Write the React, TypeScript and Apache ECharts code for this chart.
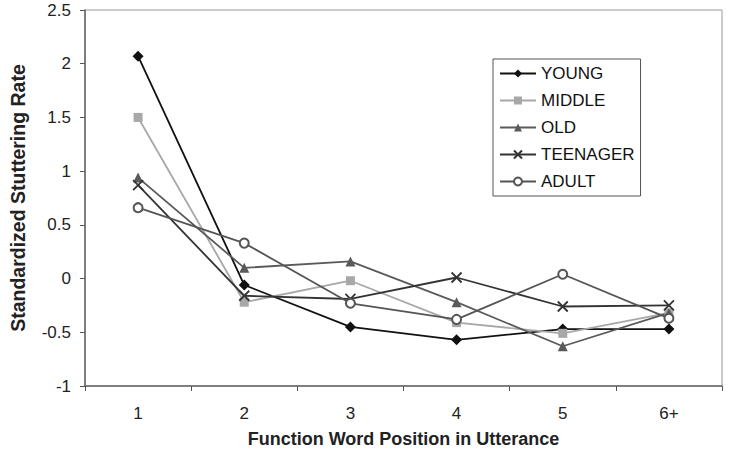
import React, { useEffect, useRef } from "react";
import * as echarts from "echarts";

const categories = ["1", "2", "3", "4", "5", "6+"];
const young = [2.07, -0.06, -0.45, -0.57, -0.47, -0.47];
const middle = [1.5, -0.22, -0.02, -0.41, -0.51, -0.32];
const old = [0.94, 0.1, 0.16, -0.22, -0.63, -0.32];
const teenager = [0.87, -0.16, -0.19, 0.01, -0.26, -0.25];
const adult = [0.66, 0.33, -0.23, -0.38, 0.04, -0.37];
const yTicks = { min: -1, max: 2.5, interval: 0.5 };

const FONT = "'Liberation Sans', Arial, sans-serif";

export default function App() {
  const ref = useRef<HTMLDivElement>(null);
  useEffect(() => {
    if (!ref.current) return;
    const chart = echarts.init(ref.current, null, { renderer: "svg" });
    const mk = (name: string, data: number[], color: string, symbol: string, size: number, extra: any = {}) => ({
      name,
      type: "line",
      data,
      symbol,
      symbolSize: size,
      showSymbol: true,
      lineStyle: { color, width: 1.8 },
      itemStyle: { color, ...extra },
    });
    chart.setOption({
      animation: false,
      backgroundColor: "#fff",
      textStyle: { fontFamily: FONT },
      grid: { left: 85, right: 8, top: 10, bottom: 63, show: true, borderColor: "#999", borderWidth: 1 },
      legend: {
        orient: "vertical",
        left: 493,
        top: 59,
        itemWidth: 36,
        itemHeight: 10,
        itemGap: 10,
        padding: [6, 6, 6, 6],
        borderColor: "#555",
        borderWidth: 1,
        textStyle: { fontFamily: FONT, fontSize: 17, color: "#111" },
        data: ["YOUNG", "MIDDLE", "OLD", "TEENAGER", "ADULT"],
      },
      xAxis: {
        type: "category",
        data: categories,
        boundaryGap: true,
        name: "Function Word Position in Utterance",
        nameLocation: "middle",
        nameGap: 44,
        nameTextStyle: { fontFamily: FONT, fontSize: 18, fontWeight: "bold", color: "#222" },
        axisLine: { onZero: false, lineStyle: { color: "#666", width: 1.5 } },
        axisTick: { show: true, length: 5, lineStyle: { color: "#555" } },
        axisLabel: { fontFamily: FONT, fontSize: 17, color: "#222", margin: 19 },
      },
      yAxis: {
        type: "value",
        min: yTicks.min,
        max: yTicks.max,
        interval: yTicks.interval,
        name: "Standardized Stuttering Rate",
        nameLocation: "middle",
        nameGap: 57,
        nameTextStyle: { fontFamily: FONT, fontSize: 19.5, fontWeight: "bold", color: "#222" },
        axisLine: { show: true, lineStyle: { color: "#666", width: 1.5 } },
        axisTick: { show: true, length: 5, lineStyle: { color: "#555" } },
        axisLabel: { fontFamily: FONT, fontSize: 17, color: "#222", margin: 14 },
        splitLine: { show: false },
      },
      series: [
        mk("YOUNG", young, "#111", "diamond", 11),
        mk("MIDDLE", middle, "#a8a8a8", "rect", 9),
        mk("OLD", old, "#5a5a5a", "triangle", 10),
        mk("TEENAGER", teenager, "#333", "path://M0,0L10,10M10,0L0,10", 10, { borderColor: "#333", borderWidth: 1.8 }),
        mk("ADULT", adult, "#555", "emptyCircle", 9, { borderWidth: 1.5 }),
      ],
    });
    return () => chart.dispose();
  }, []);
  return <div ref={ref} style={{ width: 730, height: 453, position: "absolute", left: 0, top: 0 }} />;
}
